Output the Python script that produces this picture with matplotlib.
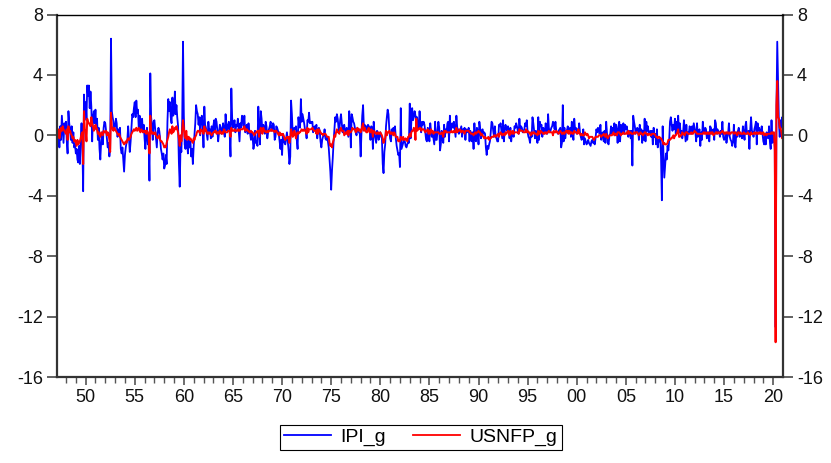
import matplotlib
matplotlib.use("Agg")
import matplotlib.pyplot as plt
import pandas as pd

# ---------------- data (monthly % growth, 1947M02 .. 2021M01) ----------------
start_month = "1947-02-01"

ipi_1940s = [
    0.5, -0.6, 0.2, -0.8, 0.6, -0.3, 1.3, 0.4, -0.5, 0.8, 0.3,            # 1947 (Feb-Dec)
    0.9, -0.4, -1.2, 1.6, 0.8, 0.3, -0.3, 0.6, -0.5, 0.2, -0.8, -0.6,      # 1948
    -1.2, -0.9, -1.6, -1.8, -0.7, -1.9, -0.3, 0.8, -0.6, -3.7, 2.7, 1.5,   # 1949
]
ipi_1950s = [
    2.2, 1.0, 3.3, 2.6, 3.3, 1.8, 2.9, 1.9, -0.4, 1.2, 1.6, 0.8,          # 1950
    1.7, 0.4, 1.1, -0.3, 0.5, -0.9, -1.6, -0.4, 0.2, -0.6, 0.5, 0.9,      # 1951
    0.8, 0.3, -0.2, -0.8, -0.5, -1.4, -0.9, 6.4, 1.6, 1.2, 0.9, 0.4,      # 1952
    0.6, 1.1, 0.8, -0.1, 0.4, 0.0, 0.5, -0.9, -1.2, -0.8, -1.6, -2.4,     # 1953
    -1.3, -0.8, -0.5, -0.3, 0.6, -0.2, -1.1, -0.4, 0.5, 1.4, 1.2, 1.8,    # 1954
    2.2, 1.2, 2.3, 1.5, 1.7, 0.4, 1.3, 0.3, 0.9, 1.1, 0.2, 0.7,           # 1955
    -0.2, -0.9, 0.1, 0.5, -0.6, -0.4, -3.0, 4.1, 1.2, 0.6, -0.3, 0.9,     # 1956
    1.0, 0.4, -0.2, -0.8, 0.2, 0.5, 0.3, -0.2, -0.9, -1.2, -1.6, -1.2,    # 1957
    -2.2, -2.0, -1.3, -1.9, 0.9, 2.4, 1.6, 2.2, 1.2, 0.8, 2.5, 1.3,       # 1958
    1.5, 2.9, 1.4, 2.0, 1.2, 0.6, -1.8, -3.4, -0.6, -1.1, 1.0, 6.2,       # 1959
]
ipi_1960s = [
    1.3, -0.6, -0.9, -0.3, -0.5, -1.2, -0.2, -0.8, -0.4, -1.4, -0.9, -1.9,  # 1960
    -0.7, 0.1, 0.8, 2.0, 1.6, 1.4, 0.7, 1.2, 0.0, 1.1, 1.3, 0.6,            # 1961
    -0.8, 1.9, 0.7, 0.5, 0.1, -0.3, 0.9, 0.3, 0.4, -0.2, 0.6, -0.1,         # 1962
    0.6, 1.0, 0.2, 1.1, 0.9, 0.3, -0.4, 0.2, 0.7, 0.5, 0.1, 0.4,            # 1963
    0.8, 0.3, -0.1, 1.4, 0.6, 0.3, 0.7, 0.9, 0.1, -1.4, 3.1, 1.2,           # 1964
    0.5, 0.8, 1.0, 0.2, 0.7, 0.6, 1.1, 0.3, -0.4, 0.8, 0.5, 1.3,            # 1965
    1.2, 0.6, 1.3, 0.2, 0.4, 0.7, 0.1, 0.8, 0.3, 0.1, -0.3, 0.2,            # 1966
    -0.1, -0.9, -0.6, 0.3, -0.5, -0.4, -0.7, 1.9, 0.4, -0.6, 1.6, 1.1,      # 1967
    0.2, 0.7, 0.5, 0.1, 0.9, 0.6, -0.2, 0.2, 0.4, 0.6, 0.9, 0.3,            # 1968
    0.4, 0.8, 0.7, -0.3, -0.1, 0.6, 0.5, 0.3, 0.1, -0.4, -0.9, -0.3,        # 1969
]
ipi_1970s = [
    -1.3, 0.1, -0.3, -0.5, -0.6, -0.2, 0.2, -0.4, -1.0, -1.9, -1.4, 2.3,    # 1970
    1.4, 0.1, 0.3, 0.5, 0.4, 0.6, -0.3, -0.9, 1.2, 0.7, 0.5, 2.4,           # 1971
    0.9, 1.4, 1.1, 0.8, 0.4, 0.3, -0.2, 1.0, 0.9, 1.5, 0.8, 0.9,            # 1972
    0.8, 0.9, 0.2, 0.5, 0.6, 0.3, 0.7, -0.2, 0.4, 0.5, 0.3, -0.4,           # 1973
    -0.8, -0.3, -0.1, 0.0, 0.4, -0.2, -0.3, -0.1, -0.4, -0.8, -1.6, -2.4,   # 1974
    -3.6, -2.3, -1.5, -0.4, 0.4, 1.2, 0.9, 1.4, 1.1, 0.5, 0.3, 1.0,         # 1975
    1.4, 0.8, 0.2, 0.6, 0.7, 0.3, 0.1, 0.5, 0.2, -0.1, 1.6, 1.0,            # 1976
    -0.8, 1.4, 1.2, 0.9, 0.8, 0.5, 0.2, 0.0, 0.5, 0.3, 0.2, 0.1,            # 1977
    -1.4, 0.2, 1.3, 2.0, 0.5, 0.7, 0.3, 0.6, 0.4, 0.7, 0.6, 0.5,            # 1978
    -0.3, 0.6, 0.5, -0.9, 0.9, 0.1, -0.2, -0.5, 0.3, 0.2, -0.3, 0.1,        # 1979
]
ipi_1980s = [
    0.2, -0.1, -0.2, -1.9, -2.5, -1.1, -0.6, 0.6, 1.2, 1.7, 1.4, 0.4,       # 1980
    -0.2, -0.4, 0.4, 0.1, 0.5, 0.3, 0.6, -0.2, -0.7, -1.0, -1.3, -1.2,      # 1981
    -2.1, 1.8, -0.9, -0.7, -0.5, -0.3, -0.4, -0.7, -0.8, -0.6, -0.4, -0.5,  # 1982
    2.1, -0.2, 0.9, 1.8, 1.0, 1.2, 1.6, 1.3, 1.1, 1.2, 0.5, 0.4,            # 1983
    1.6, 0.6, 0.2, 0.9, 0.7, 0.9, 0.7, 0.2, -0.3, -0.4, 0.5, 0.1,           # 1984
    -0.4, 0.8, 0.3, -0.1, 0.2, -0.2, -0.6, 0.9, -0.3, -0.3, 0.4, 0.9,       # 1985
    0.5, -1.0, -0.6, 0.3, -0.2, -0.5, 0.7, -0.1, 0.4, 0.2, 0.8, 0.9,        # 1986
    -0.4, 1.3, 0.2, 0.6, 0.8, 0.5, 0.9, 0.4, -0.1, 1.3, 0.5, 0.4,           # 1987
    0.1, 0.2, 0.4, 0.6, -0.1, 0.4, 0.2, 0.5, -0.3, 0.4, 0.2, 0.3,           # 1988
    0.5, -0.4, 0.3, 0.1, -0.4, 0.2, -0.9, 0.8, -0.3, -0.4, 0.5, 0.3,        # 1989
]
ipi_1990s = [
    -0.6, 0.9, 0.5, -0.2, 0.3, 0.4, 0.1, 0.2, 0.1, -0.8, -1.3, -0.7,       # 1990
    -0.9, -0.6, -0.4, 0.2, 0.9, 0.8, 0.3, -0.1, 0.6, -0.1, -0.2, -0.4,      # 1991
    -0.4, 0.7, 0.6, 0.8, 0.3, -0.2, 1.0, -0.4, 0.3, 0.7, 0.4, 0.3,          # 1992
    0.6, 0.3, -0.2, 0.5, -0.4, 0.2, 0.1, -0.1, 0.6, 0.5, 0.8, 0.6,          # 1993
    0.3, 0.1, 1.1, 0.4, 0.6, 0.5, 0.2, 0.3, 0.4, 0.8, 0.6, 1.0,             # 1994
    0.2, -0.1, -0.2, -0.5, 0.2, -0.1, 1.2, 0.8, 0.3, -0.2, 0.3, 0.1,        # 1995
    -0.5, 1.2, -0.3, 0.9, 0.6, 0.7, -0.1, 0.5, 0.4, 0.1, 0.8, 0.5,          # 1996
    0.1, 1.4, 0.5, 0.2, 0.3, 0.5, 0.6, 0.9, 0.7, 0.4, 0.9, 0.3,             # 1997
    0.2, 0.1, 0.3, 0.4, 0.5, -0.8, -0.5, 2.0, -0.4, 0.5, -0.2, 0.3,         # 1998
    0.3, 0.6, 0.2, 0.4, 0.5, -0.1, 0.9, 0.2, -0.3, 1.1, 0.4, 0.5,           # 1999
]
ipi_2000s = [
    0.1, 0.4, 0.2, 0.8, 0.2, -0.1, -0.3, -0.1, 0.4, -0.6, -0.2, -0.4,       # 2000
    -0.6, -0.5, -0.3, -0.5, -0.6, -0.7, -0.4, -0.3, -0.5, -0.4, -0.6, -0.2, # 2001
    0.4, 0.2, 0.5, 0.4, 0.1, 0.7, -0.3, 0.1, 0.2, -0.4, 0.3, -0.5,          # 2002
    0.9, 0.1, -0.5, -0.6, 0.0, 0.1, 0.6, 0.1, 0.5, 0.2, 0.8, 0.0,           # 2003
    0.7, 0.3, -0.5, 0.6, 0.9, -0.4, 0.7, 0.1, 0.3, 0.8, 0.1, 0.7,           # 2004
    0.4, 0.6, 0.3, -0.1, 0.2, 0.3, -0.2, 0.3, -2.0, 1.3, 0.9, 0.6,          # 2005
    0.1, 0.3, 0.5, 0.4, -0.3, 0.7, 0.1, 0.4, -0.5, 0.3, -0.3, 1.1,          # 2006
    -0.4, 0.9, 0.3, 0.6, 0.1, 0.2, 0.3, -0.1, 0.3, -0.6, 0.5, -0.1,         # 2007
    0.1, -0.6, 0.4, -0.8, -0.3, -0.4, -0.2, -1.4, -4.3, 0.6, -1.3, -2.8,    # 2008
    -2.0, -1.2, -1.6, -0.7, -1.0, -0.3, 0.9, 1.2, 0.7, 0.3, 0.7, 0.4,       # 2009
]
ipi_2010s = [
    1.1, 0.1, 0.9, 0.4, 1.3, 0.2, 0.8, 0.1, 0.3, -0.2, 0.2, 1.0,            # 2010
    0.3, -0.4, 0.7, -0.3, 0.2, 0.1, 0.6, 0.4, 0.1, 0.6, 0.2, 0.8,           # 2011
    0.5, 0.2, -0.4, 0.8, -0.1, 0.1, 0.4, -0.7, 0.2, -0.3, 0.9, 0.3,         # 2012
    0.2, 0.5, 0.4, -0.2, 0.1, 0.2, -0.4, 0.6, 0.5, 0.1, 0.3, 0.4,           # 2013
    -0.3, 1.0, 0.8, 0.1, 0.4, 0.3, 0.2, -0.1, 0.3, 0.1, 0.9, -0.1,          # 2014
    -0.3, -0.2, 0.1, -0.5, -0.1, 0.1, 0.8, -0.1, -0.3, -0.4, -0.7, -0.4,    # 2015
    0.7, -0.5, -0.8, 0.2, -0.1, 0.3, 0.5, -0.1, 0.1, 0.0, -0.2, 0.6,        # 2016
    0.1, -0.3, 0.6, 0.9, 0.1, 0.2, 0.3, -0.9, 0.4, 1.2, 0.3, 0.2,           # 2017
    -0.1, 0.4, 0.6, 0.9, -0.6, 0.8, 0.3, 0.5, 0.2, 0.1, 0.6, 0.1,           # 2018
    -0.4, -0.6, 0.1, -0.6, 0.2, 0.1, -0.2, 0.6, -0.4, -0.9, 1.0, -0.5,      # 2019
]
ipi_2020s = [
    -0.3, 0.1, -0.8, -12.7, 1.4, 6.2, 3.5, 0.9, -0.1, 1.0, 0.5, 1.2,        # 2020
    0.9,                                                                     # 2021 Jan
]

nfp_1940s = [
    0.3, 0.1, 0.4, -0.2, 0.2, 0.5, 0.3, 0.6, 0.4, 0.3, 0.2,                # 1947 (Feb-Dec)
    0.1, 0.4, -0.3, 0.6, 0.2, 0.3, 0.1, 0.0, -0.2, -0.1, -0.4, -0.3,       # 1948
    -0.5, -0.7, -0.3, -0.6, -0.5, -0.4, -0.2, 0.1, 0.2, -1.9, 1.6, 0.4,    # 1949
]
nfp_1950s = [
    0.3, -0.4, 1.1, 0.9, 0.8, 0.7, 0.6, 1.2, 0.8, 0.6, 0.3, 0.4,           # 1950
    0.7, 0.5, 0.4, 0.1, 0.2, 0.0, -0.1, 0.2, 0.1, 0.0, 0.3, 0.2,           # 1951
    0.2, 0.3, 0.0, 0.2, 0.1, -0.3, -1.1, 1.5, 0.6, 0.4, 0.3, 0.5,          # 1952
    0.4, 0.3, 0.2, 0.1, 0.0, 0.1, -0.1, -0.2, -0.3, -0.4, -0.5, -0.6,      # 1953
    -0.5, -0.4, -0.5, -0.3, -0.2, -0.3, -0.2, -0.1, 0.1, 0.2, 0.3, 0.4,    # 1954
    0.3, 0.4, 0.5, 0.3, 0.4, 0.5, 0.3, 0.2, 0.4, 0.3, 0.2, 0.3,            # 1955
    0.2, 0.3, 0.1, 0.3, 0.2, 0.0, -1.2, 1.3, 0.3, 0.1, 0.2, 0.1,           # 1956
    0.1, 0.2, 0.0, -0.1, -0.2, -0.1, 0.0, -0.3, -0.4, -0.4, -0.5, -0.6,    # 1957
    -0.8, -0.7, -0.8, -0.5, -0.3, -0.1, 0.2, 0.4, 0.3, 0.1, 0.6, 0.2,      # 1958
    0.3, 0.5, 0.4, 0.6, 0.4, 0.2, -0.2, -0.7, 0.0, -0.4, 0.3, 1.0,         # 1959
]
nfp_1960s = [
    0.5, -0.1, -0.2, 0.3, -0.3, -0.1, -0.1, -0.3, -0.2, -0.3, -0.4, -0.5,  # 1960
    -0.2, -0.3, -0.1, 0.0, 0.2, 0.3, 0.3, 0.2, 0.1, 0.4, 0.3, 0.3,         # 1961
    0.1, 0.6, 0.3, 0.4, 0.2, 0.1, 0.2, 0.1, 0.2, 0.1, 0.0, 0.1,            # 1962
    0.2, 0.2, 0.3, 0.3, 0.1, 0.2, 0.2, 0.1, 0.3, 0.2, 0.1, 0.2,            # 1963
    0.1, 0.4, 0.3, 0.2, 0.2, 0.2, 0.3, 0.3, 0.3, -0.1, 0.5, 0.3,           # 1964
    0.3, 0.3, 0.4, 0.3, 0.3, 0.3, 0.4, 0.3, 0.3, 0.4, 0.4, 0.4,            # 1965
    0.4, 0.5, 0.6, 0.3, 0.4, 0.4, 0.3, 0.3, 0.2, 0.2, 0.3, 0.2,            # 1966
    0.2, 0.1, 0.0, 0.1, 0.2, 0.2, 0.3, 0.3, -0.1, 0.3, 0.5, 0.4,           # 1967
    0.1, 0.5, 0.3, 0.3, 0.2, 0.2, 0.3, 0.2, 0.3, 0.3, 0.3, 0.4,            # 1968
    0.3, 0.3, 0.3, 0.2, 0.3, 0.3, 0.2, 0.1, 0.0, 0.2, 0.0, 0.1,            # 1969
]
nfp_1970s = [
    0.0, 0.1, 0.0, -0.2, -0.3, -0.2, -0.1, -0.2, -0.1, -0.5, -0.2, 0.4,    # 1970
    0.2, -0.1, 0.0, 0.3, 0.1, -0.2, 0.1, 0.2, 0.1, 0.2, 0.2, 0.3,          # 1971
    0.4, 0.3, 0.3, 0.4, 0.3, 0.3, 0.1, 0.5, 0.2, 0.4, 0.4, 0.4,            # 1972
    0.4, 0.5, 0.4, 0.3, 0.3, 0.3, 0.1, 0.4, 0.1, 0.4, 0.3, 0.2,            # 1973
    0.1, 0.1, 0.0, 0.1, 0.1, 0.1, 0.0, -0.1, -0.1, -0.1, -0.5, -0.7,       # 1974
    -0.6, -0.8, -0.5, -0.3, 0.0, -0.1, 0.2, 0.4, 0.2, 0.2, 0.1, 0.4,       # 1975
    0.5, 0.3, 0.3, 0.3, 0.0, 0.1, 0.2, 0.1, 0.3, 0.0, 0.3, 0.2,            # 1976
    0.2, 0.3, 0.5, 0.4, 0.4, 0.4, 0.2, 0.3, 0.5, 0.3, 0.4, 0.4,            # 1977
    0.2, 0.3, 0.6, 0.8, 0.3, 0.5, 0.3, 0.2, 0.2, 0.4, 0.5, 0.2,            # 1978
    0.2, 0.4, 0.3, -0.1, 0.3, 0.2, 0.2, 0.1, 0.1, 0.2, 0.1, 0.1,           # 1979
]
nfp_1980s = [
    0.2, 0.1, 0.0, -0.2, -0.5, -0.3, -0.2, 0.3, 0.0, 0.2, 0.2, 0.3,        # 1980
    0.1, 0.1, 0.2, 0.1, 0.0, 0.2, 0.1, -0.1, -0.1, -0.1, -0.4, -0.3,       # 1981
    -0.4, -0.1, -0.2, -0.3, -0.1, -0.3, -0.3, -0.2, -0.3, -0.4, -0.1, -0.1,  # 1982
    0.1, -0.1, 0.2, 0.3, 0.3, 0.5, 0.4, -0.3, 1.1, 0.3, 0.4, 0.4,          # 1983
    0.5, 0.5, 0.3, 0.4, 0.4, 0.4, 0.3, 0.2, 0.3, 0.3, 0.4, 0.1,            # 1984
    0.3, 0.1, 0.4, 0.2, 0.3, 0.1, 0.2, 0.2, 0.2, 0.2, 0.2, 0.2,            # 1985
    0.1, 0.1, 0.1, 0.2, 0.1, -0.1, 0.3, 0.2, 0.3, 0.2, 0.2, 0.2,           # 1986
    0.2, 0.2, 0.2, 0.3, 0.2, 0.2, 0.3, 0.2, 0.2, 0.5, 0.2, 0.3,            # 1987
    0.3, 0.4, 0.3, 0.2, 0.3, 0.3, 0.2, 0.1, 0.3, 0.3, 0.3, 0.3,            # 1988
    0.3, 0.2, 0.2, 0.1, 0.1, 0.1, 0.0, 0.1, 0.2, 0.1, 0.2, 0.2,            # 1989
]
nfp_1990s = [
    0.3, 0.2, 0.2, 0.0, 0.1, 0.0, -0.1, -0.2, -0.1, -0.2, -0.2, -0.2,      # 1990
    -0.1, -0.3, -0.2, -0.2, -0.1, -0.1, -0.1, 0.0, 0.0, -0.1, 0.0, 0.0,    # 1991
    0.1, -0.1, 0.1, 0.2, 0.1, 0.0, 0.1, 0.1, 0.0, 0.2, 0.1, 0.2,           # 1992
    0.3, 0.2, 0.0, 0.3, 0.2, 0.1, 0.3, 0.1, 0.2, 0.2, 0.2, 0.2,            # 1993
    0.2, 0.1, 0.4, 0.3, 0.3, 0.3, 0.3, 0.2, 0.2, 0.2, 0.4, 0.2,            # 1994
    0.3, 0.2, 0.2, 0.1, 0.0, 0.2, 0.1, 0.2, 0.2, 0.1, 0.1, 0.1,            # 1995
    0.0, 0.3, 0.1, 0.1, 0.3, 0.2, 0.2, 0.1, 0.1, 0.2, 0.2, 0.1,            # 1996
    0.2, 0.2, 0.3, 0.2, 0.2, 0.2, 0.2, 0.0, 0.3, 0.2, 0.2, 0.3,            # 1997
    0.2, 0.2, 0.1, 0.2, 0.3, 0.2, 0.1, 0.1, 0.2, 0.1, 0.2, 0.3,            # 1998
    0.2, 0.3, 0.1, 0.3, 0.1, 0.2, 0.2, 0.1, 0.1, 0.3, 0.2, 0.2,            # 1999
]
nfp_2000s = [
    0.2, 0.1, 0.4, 0.2, 0.1, 0.0, 0.1, 0.0, 0.0, 0.0, 0.2, 0.1,            # 2000
    0.0, 0.1, 0.0, -0.2, -0.1, -0.1, -0.1, -0.1, -0.2, -0.3, -0.2, -0.1,   # 2001
    -0.1, -0.1, -0.1, 0.0, 0.0, 0.0, -0.1, 0.0, 0.0, 0.1, 0.0, -0.1,       # 2002
    0.1, -0.1, -0.2, -0.1, 0.0, 0.0, 0.0, 0.0, 0.1, 0.2, 0.0, 0.1,         # 2003
    0.1, 0.0, 0.2, 0.2, 0.2, 0.1, 0.0, 0.1, 0.1, 0.2, 0.1, 0.1,            # 2004
    0.1, 0.2, 0.1, 0.3, 0.1, 0.2, 0.2, 0.1, 0.1, 0.1, 0.2, 0.1,            # 2005
    0.2, 0.2, 0.2, 0.1, 0.0, 0.1, 0.2, 0.1, 0.1, 0.0, 0.1, 0.2,            # 2006
    0.2, 0.1, 0.1, 0.0, 0.1, 0.1, 0.0, 0.0, 0.1, 0.1, 0.1, 0.1,            # 2007
    0.0, -0.1, -0.1, -0.2, -0.1, -0.1, -0.2, -0.2, -0.3, -0.4, -0.6, -0.5, # 2008
    -0.6, -0.6, -0.6, -0.5, -0.3, -0.3, -0.3, -0.2, -0.2, -0.1, 0.0, -0.2, # 2009
]
nfp_2010s = [
    0.0, 0.0, 0.1, 0.2, 0.4, -0.1, -0.1, 0.0, 0.0, 0.2, 0.1, 0.1,          # 2010
    0.0, 0.2, 0.2, 0.2, 0.1, 0.1, 0.1, 0.1, 0.2, 0.1, 0.1, 0.2,            # 2011
    0.3, 0.2, 0.2, 0.1, 0.1, 0.1, 0.1, 0.1, 0.1, 0.1, 0.1, 0.2,            # 2012
    0.1, 0.2, 0.1, 0.1, 0.2, 0.1, 0.1, 0.2, 0.1, 0.2, 0.2, 0.0,            # 2013
    0.1, 0.1, 0.2, 0.2, 0.1, 0.2, 0.2, 0.1, 0.2, 0.2, 0.3, 0.2,            # 2014
    0.1, 0.2, 0.1, 0.2, 0.2, 0.1, 0.2, 0.1, 0.1, 0.2, 0.2, 0.2,            # 2015
    0.1, 0.2, 0.2, 0.1, 0.0, 0.2, 0.2, 0.1, 0.2, 0.1, 0.1, 0.1,            # 2016
    0.2, 0.1, 0.1, 0.1, 0.1, 0.2, 0.1, 0.1, 0.0, 0.2, 0.1, 0.1,            # 2017
    0.1, 0.2, 0.1, 0.1, 0.2, 0.1, 0.1, 0.2, 0.1, 0.2, 0.1, 0.1,            # 2018
    0.2, 0.0, 0.1, 0.1, 0.0, 0.1, 0.1, 0.1, 0.1, 0.1, 0.2, 0.1,            # 2019
]
nfp_2020s = [
    0.2, 0.2, -1.0, -13.7, 2.0, 3.6, 1.2, 1.1, 0.5, 0.5, 0.2, -0.2,        # 2020
    0.1,                                                                     # 2021 Jan
]

series_names = ["IPI_g", "USNFP_g"]
y_ticks = [-16, -12, -8, -4, 0, 4, 8]
x_tick_years = list(range(1950, 2021, 5))
x_tick_labels = ["50", "55", "60", "65", "70", "75", "80", "85", "90", "95",
                 "00", "05", "10", "15", "20"]

# ---------------- assemble ----------------
ipi = (ipi_1940s + ipi_1950s + ipi_1960s + ipi_1970s + ipi_1980s +
       ipi_1990s + ipi_2000s + ipi_2010s + ipi_2020s)
nfp = (nfp_1940s + nfp_1950s + nfp_1960s + nfp_1970s + nfp_1980s +
       nfp_1990s + nfp_2000s + nfp_2010s + nfp_2020s)
assert len(ipi) == len(nfp), (len(ipi), len(nfp))
dates = pd.date_range(start_month, periods=len(ipi), freq="MS")

plt.rcParams["font.family"] = ["Liberation Sans", "DejaVu Sans"]

W, H = 831, 463
fig = plt.figure(figsize=(W / 100, H / 100), dpi=100)
left, right, top, bottom = 57, 783, 14.5, 377
ax = fig.add_axes([left / W, 1 - bottom / H, (right - left) / W, (bottom - top) / H])

l1, = ax.plot(dates, ipi, color="#0000ff", lw=1.3, label=series_names[0])
l2, = ax.plot(dates, nfp, color="#ff0000", lw=1.4, label=series_names[1])

ax.set_xlim(dates[0], dates[-1])
ax.set_ylim(-16, 8)
ax.set_yticks(y_ticks)
ax.set_yticklabels([str(v) for v in y_ticks])

ax.set_xticks([pd.Timestamp(f"{y}-01-01") for y in x_tick_years])
ax.set_xticklabels(x_tick_labels)
ax.set_xticks([pd.Timestamp(f"{y}-01-01") for y in range(1948, 2021)], minor=True)

tick_col = "#555555"
ax.tick_params(axis="y", which="major", direction="out", length=7, width=1.3,
               color=tick_col, left=True, right=True, labelleft=True,
               labelright=True, labelsize=13, pad=3, labelcolor="#111111")
ax.tick_params(axis="x", which="major", direction="out", length=6, width=1.2,
               color=tick_col, labelsize=13, pad=3, labelcolor="#111111")
ax.tick_params(axis="x", which="minor", direction="out", length=4, width=1.0,
               color=tick_col)

for side in ["left", "right", "bottom"]:
    ax.spines[side].set_linewidth(1.6)
    ax.spines[side].set_color("#333333")
ax.spines["top"].set_linewidth(1.0)
ax.spines["top"].set_color("black")

leg = fig.legend(handles=[l1, l2], labels=series_names, loc="center",
                 bbox_to_anchor=(421 / W, 1 - 437.5 / H), ncol=2, frameon=True,
                 fancybox=False, edgecolor="black", framealpha=1,
                 fontsize=14, handlelength=2.4, columnspacing=1.4,
                 handletextpad=0.5, borderpad=0.2)
leg.get_frame().set_linewidth(0.8)
for h in leg.legend_handles:
    h.set_linewidth(1.3)

fig.savefig("out.png", dpi=100)
